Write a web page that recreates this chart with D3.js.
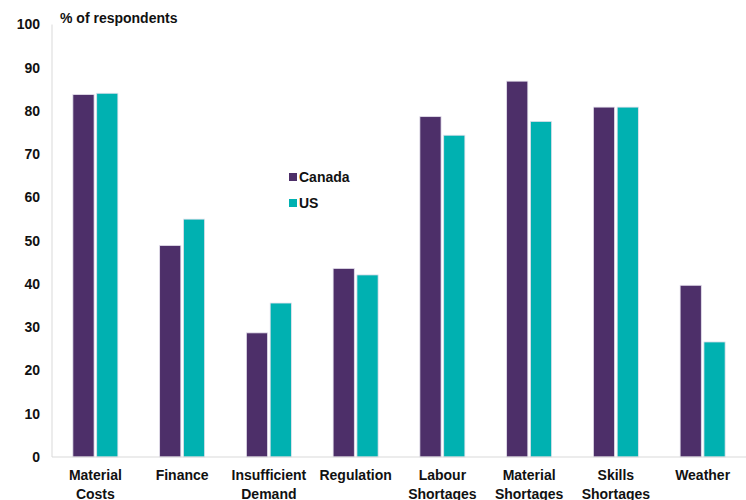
<!DOCTYPE html>
<html>
<head>
<meta charset="utf-8">
<script src="https://cdn.jsdelivr.net/npm/d3@7"></script>
<style>
  html, body { margin: 0; padding: 0; background: #fff; }
  svg { display: block; font-family: "Liberation Sans", Arial, sans-serif; }
  text { font-weight: bold; fill: #111; }
</style>
</head>
<body>
<svg id="chart" width="746" height="500"></svg>
<script>
// Share of respondents citing each constraint
const categories = [
  ["Material", "Costs"],
  ["Finance"],
  ["Insufficient", "Demand"],
  ["Regulation"],
  ["Labour", "Shortages"],
  ["Material", "Shortages"],
  ["Skills", "Shortages"],
  ["Weather"]
];
const seriesNames = ["Canada", "US"];
const canada = [83.8, 48.9, 28.7, 43.6, 78.7, 86.9, 80.9, 39.7];
const us = [84.1, 55.0, 35.6, 42.1, 74.4, 77.6, 80.9, 26.6];
const yTicks = [0, 10, 20, 30, 40, 50, 60, 70, 80, 90, 100];
const colors = ["#4d2f69", "#00b1b1"];

const svg = d3.select("#chart");
const margin = { left: 52, right: 0, top: 24.5, bottom: 43 };
const W = 746, H = 500;

const x = d3.scaleBand()
  .domain(d3.range(categories.length))
  .range([margin.left, W - margin.right])
  .paddingInner(0)
  .paddingOuter(0);

const y = d3.scaleLinear()
  .domain([0, 100])
  .range([H - margin.bottom, margin.top]);

const x1 = d3.scaleBand()
  .domain(seriesNames)
  .range([0, 45])
  .paddingInner(0.11);

const data = [canada, us];

// Axis lines
svg.append("line")
  .attr("x1", margin.left).attr("x2", margin.left)
  .attr("y1", y(100)).attr("y2", y(0))
  .attr("stroke", "#d9d9d9").attr("stroke-width", 1);

// Bars
const groups = svg.append("g").selectAll("g")
  .data(categories.map((c, i) => i))
  .join("g")
  .attr("transform", i => `translate(${x(i) + x.bandwidth() / 2 - 22.5},0)`);

groups.selectAll("rect")
  .data(i => seriesNames.map((s, k) => ({ s, k, v: data[k][i] })))
  .join("rect")
  .attr("x", d => x1(d.s))
  .attr("width", x1.bandwidth())
  .attr("y", d => y(d.v))
  .attr("height", d => y(0) - y(d.v))
  .attr("fill", d => colors[d.k])
  .attr("stroke", "#e4e0ec")
  .attr("stroke-width", 0.8);

svg.append("line")
  .attr("x1", margin.left).attr("x2", W)
  .attr("y1", y(0)).attr("y2", y(0))
  .attr("stroke", "#d9d9d9").attr("stroke-width", 1);

// Y axis labels
const yAxis = d3.axisLeft(y).tickValues(yTicks).tickSize(0).tickPadding(12);
const ya = svg.append("g")
  .attr("transform", `translate(${margin.left},0)`)
  .call(yAxis);
ya.select(".domain").remove();
ya.selectAll("text")
  .attr("font-size", 14)
  .attr("font-family", "Liberation Sans, Arial, sans-serif")
  .attr("font-weight", "bold")
  .attr("fill", "#111");

// Category labels
const xl = svg.append("g").selectAll("text")
  .data(categories)
  .join("text")
  .attr("text-anchor", "middle")
  .attr("font-size", 14)
  .attr("x", (c, i) => x(i) + x.bandwidth() / 2)
  .attr("y", 480);
xl.selectAll("tspan")
  .data(c => c)
  .join("tspan")
  .attr("x", function () { return d3.select(this.parentNode).attr("x"); })
  .attr("dy", (t, j) => j === 0 ? 0 : 19)
  .text(t => t);

// Axis title
svg.append("text")
  .attr("x", 60).attr("y", 23)
  .attr("font-size", 14)
  .text("% of respondents");

// Legend
const legend = svg.append("g").selectAll("g")
  .data(seriesNames)
  .join("g")
  .attr("transform", (d, i) => `translate(289,${177 + i * 26})`);
legend.append("rect")
  .attr("x", 0).attr("y", -4)
  .attr("width", 8).attr("height", 8)
  .attr("fill", (d, i) => colors[i]);
legend.append("text")
  .attr("x", 10).attr("y", 5)
  .attr("font-size", 14)
  .text(d => d);
</script>
</body>
</html>
